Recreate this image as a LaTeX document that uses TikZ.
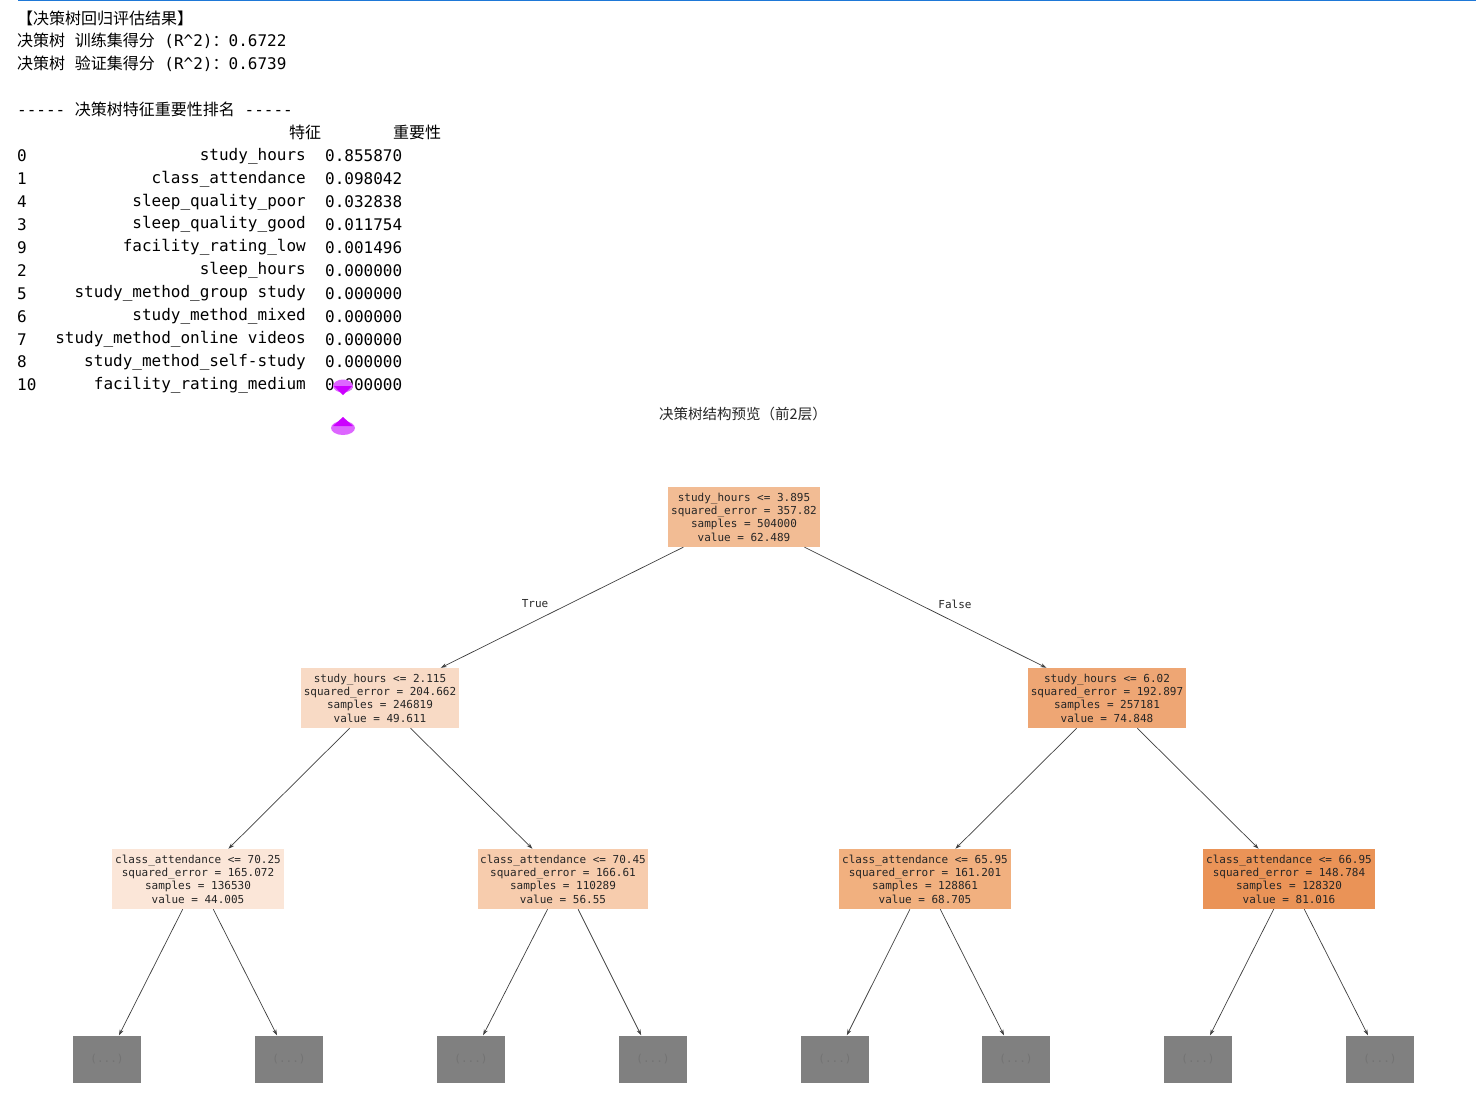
\documentclass[tikz,border=0pt]{standalone}
\usepackage{fontspec}
\setmonofont{DejaVu Sans Mono}
\newfontfamily\cjk{Noto Sans CJK SC}
\usetikzlibrary{arrows.meta}
\definecolor{c0}{HTML}{F2BC94}
\definecolor{c1}{HTML}{F8DAC5}
\definecolor{c2}{HTML}{EEA674}
\definecolor{c3}{HTML}{FBE6D8}
\definecolor{c4}{HTML}{F7CCAD}
\definecolor{c5}{HTML}{F1B07F}
\definecolor{c6}{HTML}{EA9357}
\definecolor{lf}{HTML}{808080}
\definecolor{mag}{HTML}{CC00FF}
\definecolor{magl}{HTML}{DD66FF}
\begin{document}
\begin{tikzpicture}[x=1pt,y=-1pt,
  cons/.style={font=\fontsize{16}{16}\selectfont\ttfamily, inner sep=0pt},
  cj/.style={font=\fontsize{16}{16}\selectfont\cjk, inner sep=0pt},
  tn/.style={font=\fontsize{11}{13.4}\selectfont\ttfamily, align=center, inner sep=0pt, minimum height=60pt, text=black!85},
  leaf/.style={fill=lf, minimum width=68pt, minimum height=47pt, inner sep=0pt, font=\fontsize{11}{11}\selectfont\ttfamily, text=black!55},
  edge/.style={draw=black!75, line width=0.7pt, -{Stealth[length=6pt,width=4pt]}},
  lab/.style={font=\fontsize{11}{11}\selectfont\ttfamily, text=black!85}]
\useasboundingbox (0,0) rectangle (1476,1111);
\fill[white] (0,0) rectangle (1476,1111);
\draw[color={rgb,255:red,30;green,120;blue,215}, line width=1.2pt] (18,0.6) -- (1476,0.6);
% header text
\node[anchor=west,cons] (h1) at (17,18) {{\cjk 【决策树回归评估结果】}};
\node[anchor=west,cons] (h2) at (17,41) {{\cjk 决策树} {\cjk 训练集得分} (R\string^2){\cjk ：}0.6722};
\node[anchor=west,cons] (h3) at (17,64) {{\cjk 决策树} {\cjk 验证集得分} (R\string^2){\cjk ：}0.6739};
\node[anchor=west,cons] (h4) at (17,109) {--{}--{}- {\cjk 决策树特征重要性排名} --{}--{}-};
\node[cj] (hf) at (305,132) {特征};
\node[cj] (hv) at (417,132) {重要性};
\foreach \i/\n/\v [count=\k from 0] in {0/study\_hours/0.855870,1/class\_attendance/0.098042,4/sleep\_quality\_poor/0.032838,3/sleep\_quality\_good/0.011754,9/facility\_rating\_low/0.001496,2/sleep\_hours/0.000000,5/study\_method\_group study/0.000000,6/study\_method\_mixed/0.000000,7/study\_method\_online videos/0.000000,8/study\_method\_self-study/0.000000,10/facility\_rating\_medium/0.000000}{
  \node[cons,anchor=west] (ri\k) at (17,156+22.9*\k) {\i};
  \node[cons,anchor=east] (rn\k) at (306,156+22.9*\k) {\n};
  \node[cons,anchor=west] (rv\k) at (325,156+22.9*\k) {\v};
}
% purple markers
\fill[magl] (343,386) ellipse (10 and 6.5);
\fill[mag] (334,386) -- (352,386) -- (343,395) -- cycle;
\fill[magl] (343,428) ellipse (12 and 7);
\fill[mag] (333,426) -- (353,426) -- (343,417) -- cycle;
% title
\node[font=\fontsize{14.5}{14.5}\selectfont\cjk, text=black!85] (title) at (743,414) {决策树结构预览（前2层）};
% tree
\node[tn,fill=c0,minimum width=152pt] (root) at (744,517) {study\_hours <= 3.895\\squared\_error = 357.82\\samples = 504000\\value = 62.489};
\node[tn,fill=c1,minimum width=158pt] (l) at (380,698) {study\_hours <= 2.115\\squared\_error = 204.662\\samples = 246819\\value = 49.611};
\node[tn,fill=c2,minimum width=158pt] (r) at (1107,698) {study\_hours <= 6.02\\squared\_error = 192.897\\samples = 257181\\value = 74.848};
\node[tn,fill=c3,minimum width=172pt] (ll) at (198,879) {class\_attendance <= 70.25\\squared\_error = 165.072\\samples = 136530\\value = 44.005};
\node[tn,fill=c4,minimum width=170pt] (lr) at (563,879) {class\_attendance <= 70.45\\squared\_error = 166.61\\samples = 110289\\value = 56.55};
\node[tn,fill=c5,minimum width=172pt] (rl) at (925,879) {class\_attendance <= 65.95\\squared\_error = 161.201\\samples = 128861\\value = 68.705};
\node[tn,fill=c6,minimum width=172pt] (rr) at (1289,879) {class\_attendance <= 66.95\\squared\_error = 148.784\\samples = 128320\\value = 81.016};
\foreach \x [count=\k] in {107,289,471,653,835,1016,1198,1380}
  \node[leaf] (f\k) at (\x,1059) {(...)};
\draw[edge] (root) -- (l);
\draw[edge] (root) -- (r);
\node[lab] (tl) at (535,604) {True};
\node[lab] (fl) at (955,604) {False};
\draw[edge] (l) -- (ll);
\draw[edge] (l) -- (lr);
\draw[edge] (r) -- (rl);
\draw[edge] (r) -- (rr);
\draw[edge] (ll) -- (f1);
\draw[edge] (ll) -- (f2);
\draw[edge] (lr) -- (f3);
\draw[edge] (lr) -- (f4);
\draw[edge] (rl) -- (f5);
\draw[edge] (rl) -- (f6);
\draw[edge] (rr) -- (f7);
\draw[edge] (rr) -- (f8);
\end{tikzpicture}
\end{document}
